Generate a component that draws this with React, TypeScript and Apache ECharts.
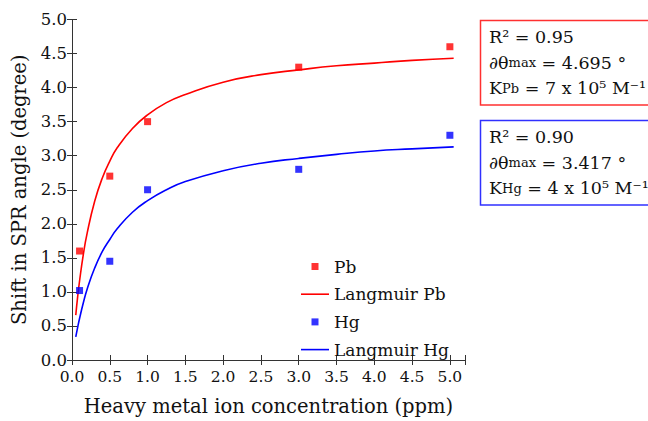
import React, { useEffect, useRef } from "react";
import * as echarts from "echarts";

// Measured points
const concentrations = [0.1, 0.5, 1.0, 3.0, 5.0];
const pbValues = [1.6, 2.7, 3.5, 4.3, 4.6];
const hgValues = [1.02, 1.45, 2.5, 2.8, 3.3];

// Langmuir fit curves
const curveX = [0.05, 0.075, 0.1, 0.15, 0.2, 0.3, 0.4, 0.5, 0.6, 0.8, 1.0, 1.25, 1.5, 2.0, 2.5, 3.0, 3.5, 4.0, 4.5, 5.05];
const pbFit = [0.66, 0.93, 1.16, 1.55, 1.86, 2.33, 2.67, 2.92, 3.12, 3.40, 3.60, 3.78, 3.90, 4.08, 4.19, 4.26, 4.32, 4.36, 4.40, 4.43];
const hgFit = [0.34, 0.48, 0.61, 0.84, 1.04, 1.35, 1.59, 1.77, 1.93, 2.17, 2.34, 2.50, 2.62, 2.78, 2.89, 2.96, 3.02, 3.07, 3.10, 3.13];

const xTicks = ["0.0", "0.5", "1.0", "1.5", "2.0", "2.5", "3.0", "3.5", "4.0", "4.5", "5.0"];

const FONT = "DejaVu Serif";
const RED = "#ff0000";
const BLUE = "#0000ff";
const AXIS = "#333333";
const TXT = "#111111";
const SQUARE = "path://M0,0H7V7H0Z";
const LINE = "path://M0,0H28V1.6H0Z";

export default function App() {
  const ref = useRef<HTMLDivElement>(null);
  useEffect(() => {
    if (!ref.current) return;
    const chart = echarts.init(ref.current, undefined, { renderer: "svg" });
    const tickLabel = (v: number) => {
      const i = Math.round(v / 0.5);
      return Math.abs(v - i * 0.5) < 1e-6 && i < xTicks.length ? xTicks[i] : "";
    };
    const baseAxis = {
      axisLine: { show: true, lineStyle: { color: AXIS, width: 1 } },
      axisTick: { show: true, inside: true, length: 5, lineStyle: { color: AXIS } },
      splitLine: { show: false },
    };
    const rich = {
      n: { fontSize: 17.5, lineHeight: 25.7, fontFamily: FONT, fill: TXT },
      s: { fontSize: 13, lineHeight: 25.7, fontFamily: FONT, fill: TXT },
    };
    const option: any = {
      animation: false,
      textStyle: { fontFamily: FONT },
      grid: { left: 72, right: 183, top: 19.5, bottom: 57 },
      xAxis: [
        {
          ...baseAxis,
          type: "value",
          position: "bottom",
          min: 0,
          max: 5.2,
          interval: 0.5,
          name: "Heavy metal ion concentration (ppm)",
          nameLocation: "middle",
          nameGap: 36,
          nameTextStyle: { fontSize: 19.5, color: TXT, fontFamily: FONT },
          axisLabel: { fontSize: 15.5, color: TXT, margin: 9, fontFamily: FONT, formatter: tickLabel },
        },
        {
          ...baseAxis,
          type: "value",
          position: "top",
          min: 0,
          max: 5.2,
          interval: 0.5,
          axisLabel: { show: false },
        },
      ],
      yAxis: [
        {
          ...baseAxis,
          type: "value",
          position: "left",
          min: 0,
          max: 5,
          interval: 0.5,
          name: "Shift in SPR angle (degree)",
          nameLocation: "middle",
          nameGap: 39,
          nameTextStyle: { fontSize: 19.5, color: TXT, fontFamily: FONT },
          axisLabel: { fontSize: 16.5, color: TXT, margin: 5, fontFamily: FONT, formatter: (v: number) => v.toFixed(1) },
        },
        {
          ...baseAxis,
          type: "value",
          position: "right",
          min: 0,
          max: 5,
          interval: 0.5,
          axisLabel: { show: false },
        },
      ],
      legend: {
        orient: "vertical",
        left: 301,
        top: 258,
        padding: 0,
        itemWidth: 28,
        itemHeight: 7,
        itemGap: 10.7,
        textStyle: { fontSize: 17, color: TXT, fontFamily: FONT, lineHeight: 17 },
        data: [
          { name: "Pb", icon: SQUARE },
          { name: "Langmuir Pb", icon: LINE },
          { name: "Hg", icon: SQUARE },
          { name: "Langmuir Hg", icon: LINE },
        ],
      },
      series: [
        {
          name: "Langmuir Pb",
          type: "line",
          symbol: "none",
          smooth: true,
          lineStyle: { color: RED, width: 1.6 },
          itemStyle: { color: RED },
          data: curveX.map((x, i) => [x, pbFit[i]]),
          z: 2,
        },
        {
          name: "Langmuir Hg",
          type: "line",
          symbol: "none",
          smooth: true,
          lineStyle: { color: BLUE, width: 1.6 },
          itemStyle: { color: BLUE },
          data: curveX.map((x, i) => [x, hgFit[i]]),
          z: 2,
        },
        {
          name: "Pb",
          type: "scatter",
          symbol: "rect",
          symbolSize: 7,
          itemStyle: { color: RED },
          data: concentrations.map((x, i) => [x, pbValues[i]]),
          z: 3,
        },
        {
          name: "Hg",
          type: "scatter",
          symbol: "rect",
          symbolSize: 7,
          itemStyle: { color: BLUE },
          data: concentrations.map((x, i) => [x, hgValues[i]]),
          z: 3,
        },
      ],
      graphic: [
        {
          type: "rect",
          shape: { x: 480.5, y: 20.5, width: 200, height: 84.5 },
          style: { fill: "#fff", stroke: "#ff3030", lineWidth: 1.5 },
        },
        {
          type: "text",
          x: 489,
          y: 24,
          style: {
            text: "{n|R² = 0.95}\n{n|∂θ}{s|max}{n| = 4.695 °}\n{n|K}{s|Pb}{n| = 7 x 10⁵ M⁻¹}",
            fill: TXT,
            fontSize: 17.5,
            fontFamily: FONT,
            rich,
          },
        },
        {
          type: "rect",
          shape: { x: 480.5, y: 120.5, width: 200, height: 84.5 },
          style: { fill: "#fff", stroke: "#3030ff", lineWidth: 1.5 },
        },
        {
          type: "text",
          x: 489,
          y: 124,
          style: {
            text: "{n|R² = 0.90}\n{n|∂θ}{s|max}{n| = 3.417 °}\n{n|K}{s|Hg}{n| = 4 x 10⁵ M⁻¹}",
            fill: TXT,
            fontSize: 17.5,
            fontFamily: FONT,
            rich,
          },
        },
      ],
    };
    chart.setOption(option);
    return () => chart.dispose();
  }, []);
  return (
    <div
      ref={ref}
      style={{ position: "fixed", left: 0, top: 0, width: 648, height: 421, background: "#fff" }}
    />
  );
}
